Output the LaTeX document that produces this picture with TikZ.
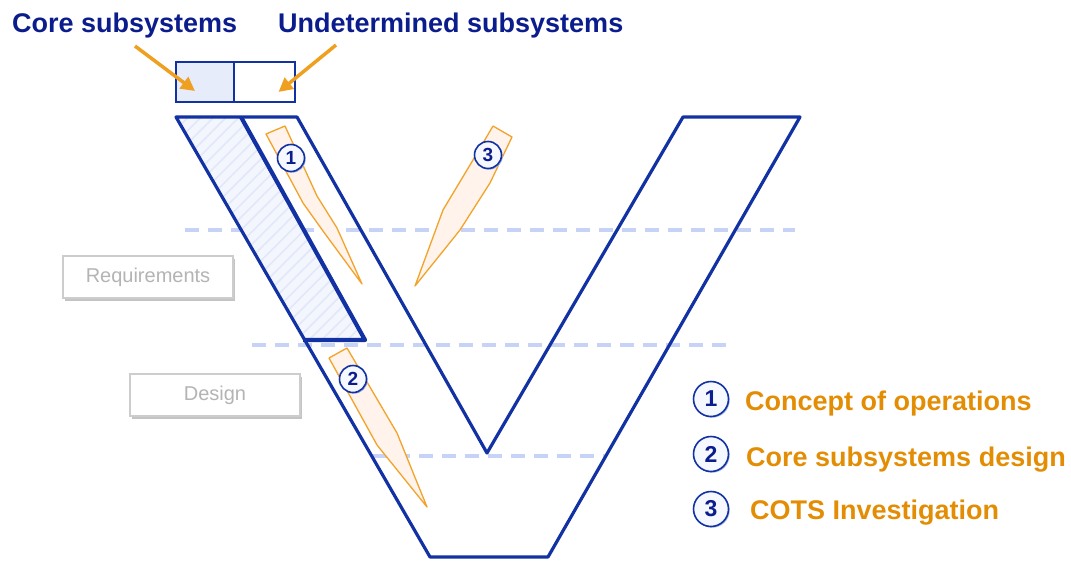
\documentclass[tikz,border=0pt]{standalone}
\usepackage{fontspec}
\setmainfont{Liberation Sans}
\usetikzlibrary{arrows.meta,patterns.meta,shadows}

\definecolor{vblue}{HTML}{1232A4}
\definecolor{tblue}{HTML}{0B1C8C}
\definecolor{dashblue}{HTML}{C6D3F6}
\definecolor{pencilline}{HTML}{F2A32A}
\definecolor{pencilfill}{HTML}{FFF3EC}
\definecolor{legorange}{HTML}{E38D05}
\definecolor{arroworange}{HTML}{F0A020}
\definecolor{hatchbg}{HTML}{F4F6FD}
\definecolor{hatchline}{HTML}{E2E8FA}
\definecolor{cellfill}{HTML}{E6ECFA}
\definecolor{grayline}{HTML}{CDCDCD}
\definecolor{grayshadow}{HTML}{C4C4C4}
\definecolor{graytext}{HTML}{B4B4B4}
\definecolor{numfill}{HTML}{F5F8FF}

\tikzset{
  vline/.style={draw=vblue, line width=3.2pt, line join=round},
  levelline/.style={draw=dashblue, line width=4pt, dash pattern=on 14pt off 9pt},
  pencil/.style={draw=pencilline, fill=pencilfill, line width=1.3pt, line join=round},
  num/.style={circle, draw=vblue, line width=1.6pt, fill=numfill, text=tblue,
    font=\bfseries\fontsize{19}{19}\selectfont, minimum size=27pt, inner sep=0pt,
    drop shadow={shadow xshift=1.2pt, shadow yshift=-1.2pt, fill=vblue!35, opacity=1}},
  bignum/.style={num, minimum size=35pt, font=\bfseries\fontsize{23}{23}\selectfont},
  title/.style={text=tblue, font=\bfseries\fontsize{27}{30}\selectfont, inner sep=0pt, anchor=base west},
  legend/.style={text=legorange, font=\bfseries\fontsize{27}{30}\selectfont, inner sep=0pt, anchor=base west},
  phase/.style={draw=grayline, line width=1.2pt, fill=white, text=graytext,
    font=\fontsize{20}{22}\selectfont, inner sep=0pt, minimum width=170pt, minimum height=42pt,
    drop shadow={shadow xshift=2pt, shadow yshift=-3pt, fill=grayshadow, opacity=1}},
  callout/.style={draw=arroworange, line width=3.5pt, -{Triangle[length=14pt,width=14pt]}},
  cell/.style={draw=vblue, line width=1.4pt, minimum height=40pt, inner sep=0pt},
}

\begin{document}
\begin{tikzpicture}[x=1pt,y=-1pt]
\useasboundingbox (0,0) rectangle (1071,560);

% titles and the split box they point to
\node[title] (core) at (12,32) {Core subsystems};
\node[title] (undet) at (278,32) {Undetermined subsystems};
\node[cell, minimum width=58pt, fill=cellfill] (cellA) at (205,82) {};
\node[cell, minimum width=61pt] (cellB) at (264.5,82) {};
\coordinate (fromcore) at (135,46);
\coordinate (fromundet) at (336,45);
\draw[callout] (fromcore) -- ([xshift=-10pt,yshift=-9pt]cellA.center);
\draw[callout] (fromundet) -- ([xshift=14pt,yshift=-10pt]cellB.center);

% phase labels
\node[phase] (req) at (148,277) {Requirements};
\node[phase] (des) at (215,395) {Design};

% level lines
\draw[levelline] (185,230) -- (795,230);
\draw[levelline] (252,345) -- (727,345);
\draw[levelline] (373,456) -- (606,456);

% hatched core strip
\fill[hatchbg] (176,117) -- (241,117) -- (365,340) -- (303,340) -- cycle;
\fill[pattern={Lines[angle=45,distance=9pt,line width=1.6pt]}, pattern color=hatchline]
  (176,117) -- (241,117) -- (365,340) -- (303,340) -- cycle;

% the V
\draw[vline] (176,117) -- (297,117) -- (487,453) -- (683,117) -- (800,117)
  -- (548,557) -- (430,557) -- cycle;
\draw[vline, line width=4.2pt] (241,117) -- (365,340) -- (303,340);

% pencils
\draw[pencil] (266,134) -- (285,126) -- (317,196) -- (337,228) -- (362,284)
  -- (323,231) -- (303,203) -- cycle;
\draw[pencil] (329,358) -- (347,348) -- (397,433) -- (427,507) -- (377,445) -- cycle;
\draw[pencil] (493,126) -- (512,137) -- (490,183) -- (460,230) -- (415,286)
  -- (443,210) -- (473,160) -- cycle;

\node[num] (n1) at (291,158) {1};
\node[num] (n2) at (353,379) {2};
\node[num] (n3) at (488,155) {3};

% legend
\node[bignum] (l1) at (711,399) {1};
\node[bignum] (l2) at (711,454) {2};
\node[bignum] (l3) at (711,509) {3};
\node[legend] (t1) at (745,410) {Concept of operations};
\node[legend] (t2) at (746,466) {Core subsystems design};
\node[legend] (t3) at (750,519) {COTS Investigation};
\end{tikzpicture}
\end{document}
